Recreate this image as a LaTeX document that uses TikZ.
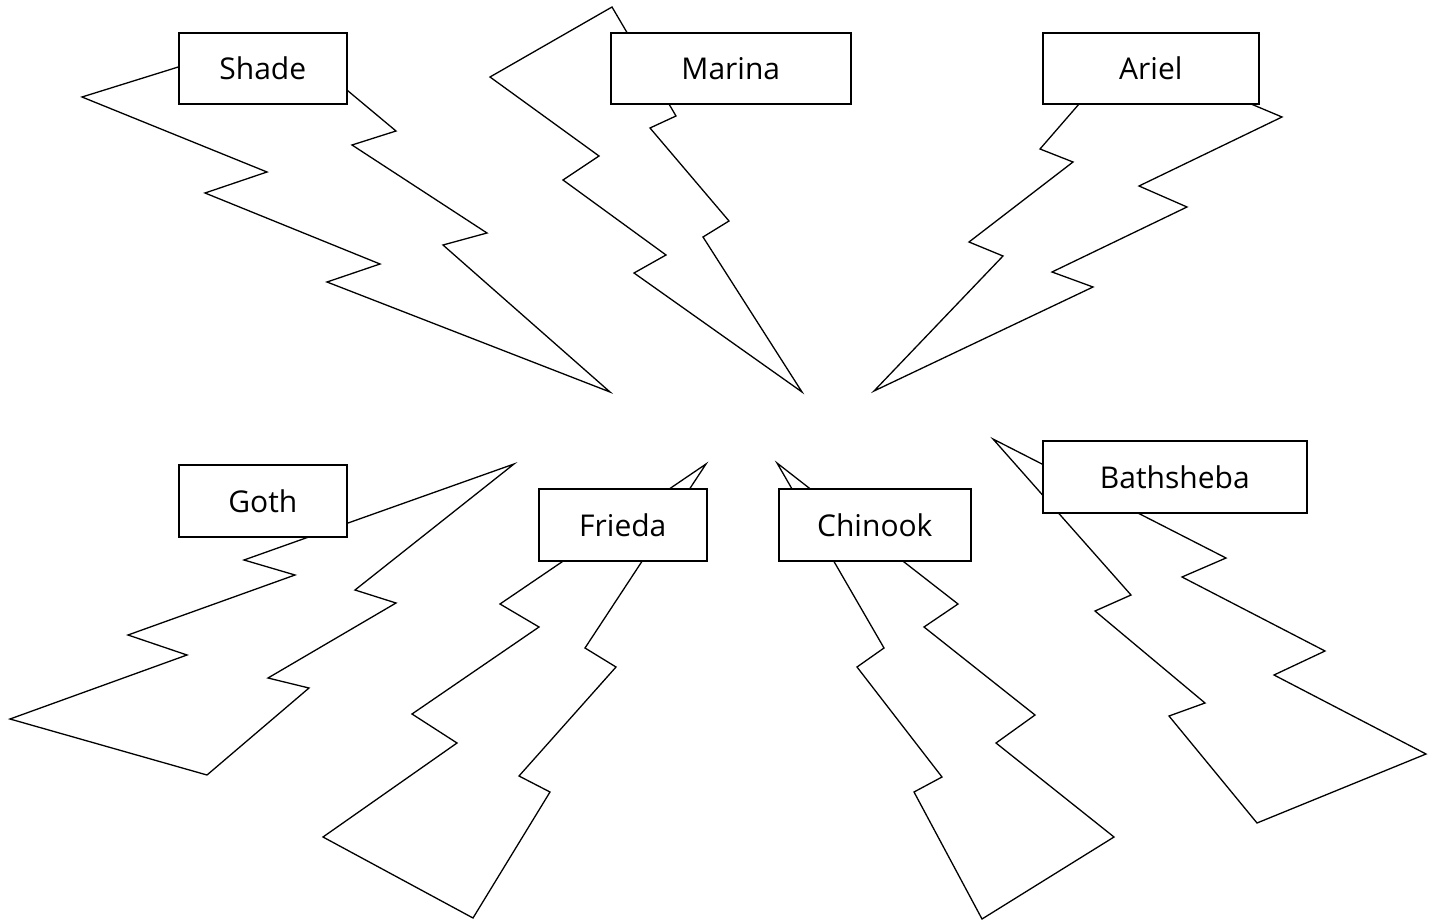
\documentclass[tikz,border=0pt]{standalone}
\usepackage{fontspec}
\newfontfamily\lblfont{Open Sans}
\begin{document}
\begin{tikzpicture}[x=1pt,y=-1pt,
  bolt/.style={draw=black,line width=1.3pt,line join=miter},
  lbl/.style={draw=black,fill=white,line width=1.6pt,inner sep=0pt,anchor=north west,
    font=\lblfont\fontsize{30}{36}\selectfont}]
\useasboundingbox (0,0) rectangle (1434,920);
% bolts
\draw[bolt] (281,35) -- (82,97) -- (267,172) -- (205,193) -- (380,264) -- (327,282) -- (610,392) -- (443,245) -- (487,233) -- (352,145) -- (396,131) -- cycle;
\draw[bolt] (612,7) -- (490,77) -- (599,156) -- (563,180) -- (666,255) -- (634,273) -- (802,392) -- (703,237) -- (729,221) -- (650,128) -- (676,116) -- cycle;
\draw[bolt] (1125,51) -- (1040,149) -- (1073,162) -- (969,242) -- (1003,256) -- (874,391) -- (1093,287) -- (1052,272) -- (1187,207) -- (1139,186) -- (1282,117) -- cycle;
\draw[bolt] (514,464) -- (244,560) -- (295,575) -- (128,635) -- (187,655) -- (10,719) -- (207,775) -- (309,688) -- (268,678) -- (396,603) -- (355,590) -- cycle;
\draw[bolt] (706,464) -- (500,604) -- (539,627) -- (412,714) -- (457,743) -- (323,837) -- (473,918) -- (550,792) -- (519,776) -- (616,667) -- (585,648) -- cycle;
\draw[bolt] (777,463) -- (884,648) -- (857,667) -- (942,777) -- (914,792) -- (982,919) -- (1114,837) -- (996,743) -- (1035,715) -- (924,627) -- (958,604) -- cycle;
\draw[bolt] (993,439) -- (1131,595) -- (1095,611) -- (1205,703) -- (1169,716) -- (1257,823) -- (1426,754) -- (1274,675) -- (1325,651) -- (1182,577) -- (1226,558) -- cycle;
% labels
\node[lbl,minimum width=168pt,minimum height=71pt] (shade) at (178,32) {Shade};
\node[lbl,minimum width=240pt,minimum height=71pt] (marina) at (610,32) {Marina};
\node[lbl,minimum width=216pt,minimum height=71pt] (ariel) at (1042,32) {Ariel};
\node[lbl,minimum width=168pt,minimum height=72pt] (goth) at (178,464) {Goth};
\node[lbl,minimum width=168pt,minimum height=72pt] (frieda) at (538,488) {Frieda};
\node[lbl,minimum width=192pt,minimum height=72pt] (chinook) at (778,488) {Chinook};
\node[lbl,minimum width=264pt,minimum height=72pt] (bathsheba) at (1042,440) {Bathsheba};
\end{tikzpicture}
\end{document}
